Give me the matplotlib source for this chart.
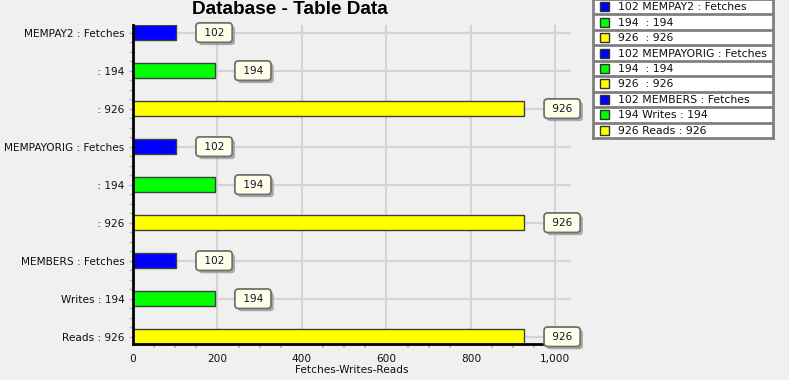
import matplotlib
matplotlib.use("Agg")
import matplotlib.pyplot as plt
import matplotlib.patheffects as pe
from matplotlib.patches import Rectangle
from matplotlib.ticker import MultipleLocator, FuncFormatter

categories = ["MEMPAY2 : Fetches", " : 194", " : 926",
              "MEMPAYORIG : Fetches", " : 194", " : 926",
              "MEMBERS : Fetches", "Writes : 194", "Reads : 926"]
values = [102, 194, 926, 102, 194, 926, 102, 194, 926]
colors = ["#0000FF", "#00FF00", "#FFFF00"] * 3
title = "Database - Table Data"
xlabel = "Fetches-Writes-Reads"

plt.rcParams['font.family'] = ['DejaVu Sans']
BG = "#F0F0F0"
fig = plt.figure(figsize=(7.89, 3.80), dpi=100, facecolor=BG)
ax = fig.add_axes([133/789, 1-344/380, (571-133)/789, (344-25)/380], facecolor=BG)

y = list(range(len(categories)))
ax.barh(y, values, height=0.4, color=colors, edgecolor="#404040", linewidth=1, zorder=3)
ax.set_ylim(8.19, -0.2)
ax.set_xlim(0, 1037)
ax.set_yticks(y)
ax.set_yticklabels(categories, fontsize=7.6, color="#101010")
ax.yaxis.set_minor_locator(MultipleLocator(0.25))
ax.set_xticks([0, 200, 400, 600, 800, 1000])
ax.xaxis.set_major_formatter(FuncFormatter(lambda v, p: f"{int(v):,}"))
ax.xaxis.set_minor_locator(MultipleLocator(50))
ax.tick_params(axis='x', which='major', length=0, pad=7, labelsize=7.6, labelcolor="#101010")
ax.tick_params(axis='x', which='minor', length=3, color="#B0B0B0", width=1.2)
ax.tick_params(axis='y', which='both', length=3, color="#B8B8B8", width=1.0, pad=3)
ax.grid(True, which='major', color="#D4D4D4", linewidth=1.5, zorder=0)
ax.set_axisbelow(True)
for s in ["top", "right"]:
    ax.spines[s].set_visible(False)
for s in ["left", "bottom"]:
    ax.spines[s].set_linewidth(2)
    ax.spines[s].set_color("black")
    ax.spines[s].set_zorder(4)
ax.set_xlabel(xlabel, fontsize=7.6, labelpad=1, color="#101010")

for yi, v in zip(y, values):
    t = ax.annotate(f" {v} ", xy=(v, yi), xytext=(38, 0), textcoords="offset pixels",
                    ha="center", va="center", fontsize=7.6, color="#101030", zorder=6,
                    bbox=dict(boxstyle="round,pad=0.45,rounding_size=0.35", fc="#FFFFE8",
                              ec="#707070", lw=1.3))
    t.get_bbox_patch().set_path_effects([pe.SimplePatchShadow(offset=(2, -2), shadow_rgbFace="#999999", alpha=0.8), pe.Normal()])

fig.text(290/789, 1-10/380, title, ha="center", va="center", fontsize=13.7,
         fontweight="bold", family="Liberation Sans", color="black")

# legend panel
lx0, lx1, ly0, ly1 = 593, 773, -1, 138
lax = fig.add_axes([lx0/789, 1-ly1/380, (lx1-lx0)/789, (ly1-ly0)/380])
lax.set_xlim(lx0, lx1)
lax.set_ylim(ly1, ly0)
lax.set_facecolor("white")
for s in lax.spines.values():
    s.set_color("#808080")
    s.set_linewidth(2)
lax.set_xticks([])
lax.set_yticks([])
n = len(categories)
rh = (ly1 - ly0) / n
for i, (lab, v, c) in enumerate(zip(categories, values, colors)):
    top = ly0 + i * rh
    if i > 0:
        lax.plot([lx0, lx1], [top, top], color="#808080", lw=2)
    lax.add_patch(Rectangle((600, top + rh/2 - 4.5), 9, 9, fc=c, ec="#303030", lw=1))
    lax.text(618, top + rh/2 + 0.5, f"{v} {lab}", ha="left", va="center", fontsize=7.8, color="#101010")

fig.savefig("out.png", dpi=100, facecolor=BG)
